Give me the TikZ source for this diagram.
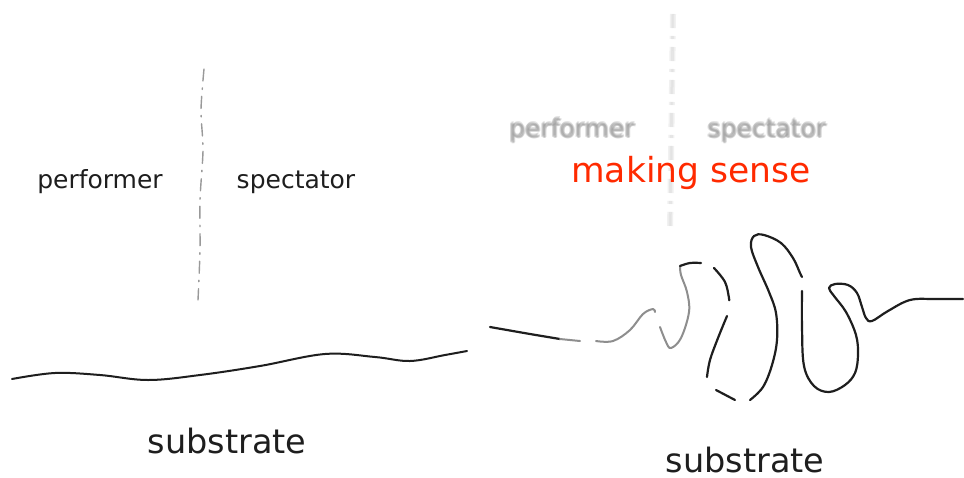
\documentclass[tikz,border=0pt]{standalone}
\usepackage{fontspec}
\setmainfont{DejaVu Sans}
\definecolor{senseRed}{HTML}{FF2A00}
\definecolor{ink}{HTML}{1E1E1E}
\begin{document}
\begin{tikzpicture}[x=1pt,y=-1pt,
  label/.style={font=\fontsize{25}{28}\selectfont, text=ink, inner sep=0pt, anchor=base},
  big/.style={font=\fontsize{33.5}{36}\selectfont, text=ink, inner sep=0pt, anchor=base},
  ghost/.style={font=\fontsize{25}{28}\selectfont, text=gray!80, inner sep=0pt, anchor=base, opacity=0.26},
  ink line/.style={draw=ink, line width=2.2pt, line cap=round, line join=round},
  pale line/.style={draw=ink!50, line width=2pt, line cap=round, line join=round},
  divider/.style={draw=gray!80, line width=1.4pt, line cap=round, dash pattern=on 12pt off 7pt on 1.5pt off 7pt}]
\useasboundingbox[fill=white] (0,0) rectangle (964,477);

% ---------- left panel ----------
\draw[divider] plot[smooth] coordinates {(204,69) (201,110) (203,150) (200,200) (200,250) (198,300)};
\node[label] (perf) at (100,188) {performer};
\node[label] (spec) at (296,188) {spectator};
\draw[ink line, line width=2pt] plot[smooth, tension=0.6] coordinates
  {(12,379) (55,373) (100,375) (148,380) (200,375) (260,366) (325,354) (375,357) (410,361) (445,355) (467,351)};
\node[big] (subL) at (227,453) {substrate};

% ---------- right panel ----------
% faded background of the first view
\foreach \dx/\dy in {-1.5/0,1.5/0,0/-1.5,0/1.5,0/0,-1/-1,1/1}{
  \node[ghost] at (572+\dx,137+\dy) {performer};
  \node[ghost] at (767+\dx,137+\dy) {spectator};
}
\foreach \dx in {-1.5,0,1.5}{
  \draw[gray!60, line width=3pt, opacity=0.18, dash pattern=on 14pt off 8pt on 3pt off 8pt]
    (673+\dx,14) -- (670+\dx,232);
}
\node[font=\fontsize{34.5}{38}\selectfont, text=senseRed, inner sep=0pt, anchor=base] (sense) at (691,182) {making sense};

% folded substrate line
\draw[ink line] plot[smooth, tension=0.6] coordinates {(490,327) (530,334) (560,339)};
\draw[pale line] plot[smooth, tension=0.6] coordinates {(560,339) (580,341)};
\draw[pale line] plot[smooth, tension=0.6] coordinates {(596,341) (613,341) (630,330) (643,314) (653,309) (655,312)};
\draw[pale line] plot[smooth, tension=0.6] coordinates {(660,327) (666,342) (671,348) (681,338) (689,312) (687,292) (681,275) (680,266)};
\draw[ink line] plot[smooth, tension=0.6] coordinates {(680,266) (690,263) (701,263)};
\draw[ink line] plot[smooth, tension=0.6] coordinates {(714,268) (725,282) (729,298) (729,300)};
\draw[ink line] plot[smooth, tension=0.6] coordinates {(727,316) (718,338) (710,360) (707,377)};
\draw[ink line] plot[smooth, tension=0.6] coordinates {(716,390) (735,400)};
\draw[ink line] plot[smooth, tension=0.6] coordinates {(750,400) (763,387) (772,365) (777,340) (776,313) (769,292) (758,267) (751,247) (754,236) (764,235) (781,243) (793,258) (800,273) (802,277)};
\draw[ink line] plot[smooth, tension=0.6] coordinates {(802,291) (802,327) (804,366) (814,386) (829,392) (845,385) (855,373) (858,355) (856,335) (846,312) (834,296) (829,288) (835,284) (848,285) (857,293) (862,307) (866,318) (872,321) (888,311) (910,300) (935,299) (963,299)};
\node[big] (subR) at (745,472) {substrate};
\end{tikzpicture}
\end{document}
